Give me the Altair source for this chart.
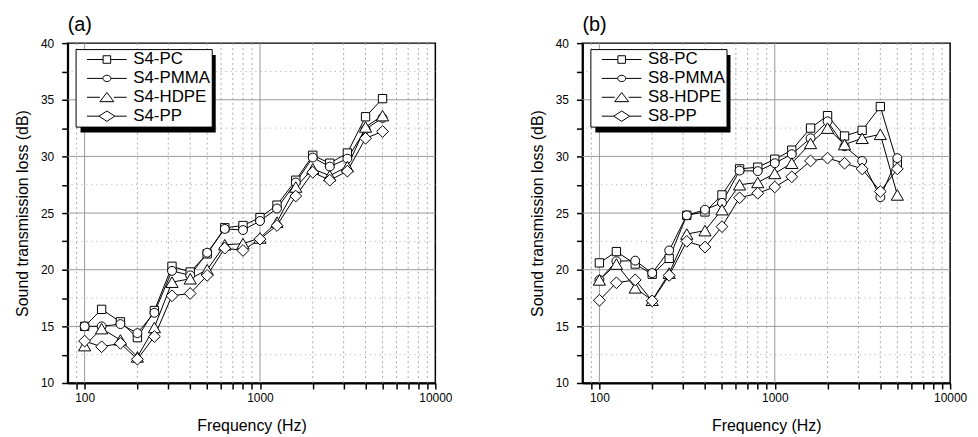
import altair as alt
import pandas as pd

# ---------------- data ----------------
freqs = [100, 125, 160, 200, 250, 315, 400, 500, 630, 800, 1000, 1250, 1600, 2000, 2500, 3150, 4000, 5000]
materials = ["PC", "PMMA", "HDPE", "PP"]

s4_pc = [15.0, 16.5, 15.4, 14.0, 16.4, 20.3, 19.8, 21.4, 23.7, 23.9, 24.6, 25.7, 27.9, 30.1, 29.4, 30.3, 33.5, 35.1]
s4_pmma = [15.0, 15.0, 15.2, 14.4, 16.2, 19.9, 19.5, 21.5, 23.6, 23.5, 24.3, 25.4, 27.7, 29.9, 29.1, 29.8, 32.4, 33.4]
s4_hdpe = [13.3, 14.8, 13.8, 12.3, 14.9, 18.9, 19.2, 20.0, 22.2, 22.3, 22.8, 24.2, 27.3, 28.9, 28.3, 29.1, 32.6, 33.6]
s4_pp = [13.7, 13.2, 13.5, 12.1, 14.1, 17.7, 17.9, 19.5, 21.9, 21.7, 22.7, 23.9, 26.5, 28.6, 27.9, 28.7, 31.6, 32.2]

s8_pc = [20.6, 21.6, 20.5, 19.6, 21.0, 24.8, 25.1, 26.6, 28.9, 29.05, 29.75, 30.55, 32.5, 33.6, 31.8, 32.3, 34.4, 29.4]
s8_pmma = [19.1, 20.75, 20.8, 19.7, 21.7, 24.8, 25.3, 25.9, 28.75, 28.7, 29.4, 30.2, 31.6, 33.1, 30.9, 29.6, 26.4, 29.85]
s8_hdpe = [19.1, 20.5, 18.4, 17.3, 19.7, 23.15, 23.45, 25.3, 27.5, 27.7, 28.5, 29.4, 31.15, 32.5, 31.05, 31.6, 31.95, 26.6]
s8_pp = [17.3, 18.85, 19.1, 17.25, 19.5, 22.5, 22.0, 23.8, 26.35, 26.75, 27.3, 28.2, 29.6, 29.85, 29.4, 28.9, 26.9, 28.9]

x_major_grid = [100, 1000]
x_minor_grid = [90, 200, 300, 400, 500, 600, 700, 800, 900,
                2000, 3000, 4000, 5000, 6000, 7000, 8000, 9000]
y_major_grid = [15, 20, 25, 30, 35]
y_minor_grid = [12.5, 17.5, 22.5, 27.5, 32.5, 37.5]
x_tick_values = [90, 100, 200, 300, 400, 500, 600, 700, 800, 900, 1000,
                 2000, 3000, 4000, 5000, 6000, 7000, 8000, 9000, 10000]
y_tick_values = [10, 12.5, 15, 17.5, 20, 22.5, 25, 27.5, 30, 32.5, 35, 37.5, 40]

FONT = "Liberation Sans"

point_shapes = {"PC": "square", "PMMA": "circle", "HDPE": "triangle-up", "PP": "diamond"}
point_sizes = {"PC": 70, "PMMA": 80, "HDPE": 150, "PP": 140}

# legend symbols: a line sample with the marker in its middle
# (unit coords scaled by sqrt(size)/2 = 20 px; shifted right by 0.5 unit)
legend_paths = [
    "M-0.5,0L0.31,0M0.69,0L1.5,0M0.31,-0.19L0.69,-0.19L0.69,0.19L0.31,0.19Z",
    "M-0.5,0L0.3,0M0.7,0L1.5,0M0.7,0A0.2,0.16,0,1,1,0.3,0A0.2,0.16,0,1,1,0.7,0Z",
    "M-0.5,0L0.15,0M0.85,0L1.5,0M0.15,0.22L0.5,-0.24L0.85,0.22Z",
    "M-0.5,0L0.1,0M0.9,0L1.5,0M0.1,0L0.5,-0.26L0.9,0L0.5,0.26Z",
]

xs = alt.Scale(type="log", domain=[80, 10000], nice=False)
ys = alt.Scale(domain=[10, 40], nice=False, zero=False)

x_axis = alt.Axis(
    values=x_tick_values,
    labelExpr="(datum.value == 100 || datum.value == 1000 || datum.value == 10000) ? format(datum.value, 'd') : ''",
    grid=False, title="Frequency (Hz)",
    domainColor="black", domainWidth=2, tickColor="black", tickSize=6, tickWidth=1.5,
    labelFont=FONT, labelFontSize=12, labelColor="black", labelPadding=4,
    labelOverlap=False, labelFlush=False,
    titleFont=FONT, titleFontSize=16, titleFontWeight="normal", titleColor="black", titlePadding=14,
)
y_axis = alt.Axis(
    values=y_tick_values,
    labelExpr="datum.value % 5 == 0 ? datum.label : ''",
    grid=False, title="Sound transmission loss (dB)",
    domainColor="black", domainWidth=2, tickColor="black", tickSize=6, tickWidth=1.5,
    labelFont=FONT, labelFontSize=12, labelColor="black", labelPadding=8, labelOverlap=False,
    titleFont=FONT, titleFontSize=16, titleFontWeight="normal", titleColor="black", titlePadding=10,
)


def panel(prefix, series_lists, label):
    rows = []
    for m, vals in zip(materials, series_lists):
        for f, v in zip(freqs, vals):
            rows.append({"freq": f, "tl": v, "material": m, "series": f"{prefix}-{m}"})
    df = pd.DataFrame(rows)
    names = [f"{prefix}-{m}" for m in materials]

    vminor = alt.Chart(pd.DataFrame({"v": x_minor_grid})).mark_rule(
        color="#aaaaaa", strokeDash=[2, 3], strokeWidth=1).encode(
        x=alt.X("v:Q", scale=xs, axis=x_axis))
    hminor = alt.Chart(pd.DataFrame({"h": y_minor_grid})).mark_rule(
        color="#aaaaaa", strokeDash=[1, 4], strokeWidth=1).encode(
        y=alt.Y("h:Q", scale=ys, axis=y_axis))
    vmajor = alt.Chart(pd.DataFrame({"v": x_major_grid})).mark_rule(
        color="#999999", strokeWidth=1).encode(
        x=alt.X("v:Q", scale=xs, axis=x_axis))
    hmajor = alt.Chart(pd.DataFrame({"h": y_major_grid})).mark_rule(
        color="#999999", strokeWidth=1).encode(
        y=alt.Y("h:Q", scale=ys, axis=y_axis))

    # drop shadow behind the legend box
    shadow = alt.Chart(pd.DataFrame({"k": [0]})).mark_rect(color="black").encode(
        x=alt.value(13), x2=alt.value(149), y=alt.value(12), y2=alt.value(90))

    lines = alt.Chart(df).mark_line(color="black", strokeWidth=1).encode(
        x=alt.X("freq:Q", scale=xs, axis=x_axis),
        y=alt.Y("tl:Q", scale=ys, axis=y_axis),
        detail="material:N",
    )
    pts = []
    for m in materials:
        pts.append(
            alt.Chart(df).transform_filter(alt.datum.material == m).mark_point(
                shape=point_shapes[m], size=point_sizes[m], filled=True,
                fill="white", stroke="black", strokeWidth=1, opacity=1).encode(
                x=alt.X("freq:Q", scale=xs, axis=x_axis),
                y=alt.Y("tl:Q", scale=ys, axis=y_axis),
            )
        )
    # legend only: no marks drawn (filtered out), entries come from the explicit domain
    legend_layer = alt.Chart(df).transform_filter(alt.datum.freq < 0).mark_point(
        filled=False, color="black", strokeWidth=1).encode(
        x=alt.X("freq:Q", scale=xs, axis=x_axis),
        y=alt.Y("tl:Q", scale=ys, axis=y_axis),
        shape=alt.Shape("series:N", scale=alt.Scale(domain=names, range=legend_paths),
                        legend=alt.Legend(
                            title=None, orient="none", legendX=8, legendY=6,
                            fillColor="white", strokeColor="black", padding=1,
                            symbolSize=1600, symbolStrokeWidth=1, symbolOpacity=1,
                            symbolStrokeColor="black", symbolFillColor="white",
                            symbolOffset=0, clipHeight=19, rowPadding=0, labelOffset=16,
                            labelFont=FONT, labelFontSize=17, labelColor="black",
                        )),
    )
    return alt.layer(vminor, hminor, vmajor, hmajor, shadow, lines, *pts, legend_layer).properties(
        width=370, height=342,
        title=alt.TitleParams(label, anchor="start", frame="group", fontSize=20,
                              fontWeight="normal", font=FONT, color="black", offset=2),
    )


left = panel("S4", [s4_pc, s4_pmma, s4_hdpe, s4_pp], "(a)")
right = panel("S8", [s8_pc, s8_pmma, s8_hdpe, s8_pp], "(b)")

chart = alt.hconcat(left, right, spacing=148, bounds="flush").resolve_scale(
    shape="independent").properties(
    padding={"left": 5, "right": 2, "top": 5, "bottom": 2}
).configure_view(stroke="black", strokeWidth=1.5)

chart.save("out.html", embed_options={"renderer": "svg", "actions": False})
